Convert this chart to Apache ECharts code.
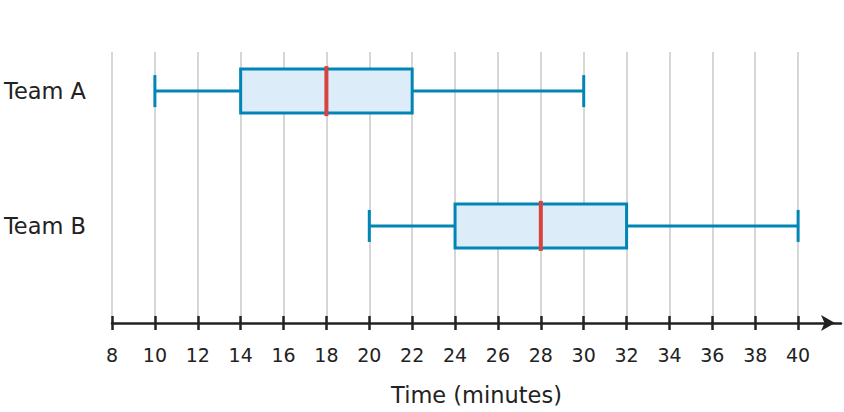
<!DOCTYPE html>
<html><head><meta charset="utf-8">
<script src="https://cdn.jsdelivr.net/npm/echarts@6/dist/echarts.min.js"></script>
<style>html,body{margin:0;padding:0;background:#fff}#c{width:844px;height:412px}</style>
</head><body><div id="c"></div>
<script>
var teams = ['Team A', 'Team B'];
var mins = [10, 20];
var q1s = [14, 24];
var medians = [18, 28];
var q3s = [22, 32];
var maxs = [30, 40];
var tickValues = [8,10,12,14,16,18,20,22,24,26,28,30,32,34,36,38,40];

var data = teams.map(function (t, i) { return [i, mins[i], q1s[i], medians[i], q3s[i], maxs[i]]; });

var BLUE = '#0085b6', FILL = '#dcecf9', RED = '#d8433e', INK = '#222222';
var FONT = 'DejaVu Sans';

function renderItem(params, api) {
  var idx = api.value(0);
  var p = function (v) { return api.coord([v, idx]); };
  var pMin = p(api.value(1)), pQ1 = p(api.value(2)), pMed = p(api.value(3)), pQ3 = p(api.value(4)), pMax = p(api.value(5));
  var cy = pMin[1];
  var boxH = 44, capH = 32, medH = 50;
  var lineStyle = { stroke: BLUE, lineWidth: 3, fill: null };
  return {
    type: 'group',
    children: [
      { type: 'line', shape: { x1: pMin[0], y1: cy, x2: pQ1[0], y2: cy }, style: lineStyle },
      { type: 'line', shape: { x1: pQ3[0], y1: cy, x2: pMax[0], y2: cy }, style: lineStyle },
      { type: 'line', shape: { x1: pMin[0], y1: cy - capH / 2, x2: pMin[0], y2: cy + capH / 2 }, style: lineStyle },
      { type: 'line', shape: { x1: pMax[0], y1: cy - capH / 2, x2: pMax[0], y2: cy + capH / 2 }, style: lineStyle },
      { type: 'rect', shape: { x: pQ1[0], y: cy - boxH / 2, width: pQ3[0] - pQ1[0], height: boxH }, style: { fill: FILL, stroke: BLUE, lineWidth: 3 } },
      { type: 'line', shape: { x1: pMed[0], y1: cy - medH / 2, x2: pMed[0], y2: cy + medH / 2 }, style: { stroke: RED, lineWidth: 4 } }
    ]
  };
}

var chart = echarts.init(document.getElementById('c'), null, { renderer: 'svg' });
chart.setOption({
  animation: false,
  backgroundColor: '#ffffff',
  textStyle: { fontFamily: FONT },
  grid: { left: 112, right: 3, top: 52, bottom: 89, containLabel: false },
  xAxis: [{
    type: 'value', min: 8, max: 42, interval: 2, position: 'bottom',
    name: 'Time (minutes)', nameLocation: 'middle', nameGap: 60,
    nameTextStyle: { fontSize: 22.5, color: INK, fontFamily: FONT },
    axisLine: { show: true, onZero: false, lineStyle: { color: INK, width: 2.5 }, symbol: ['none', 'arrow'], symbolSize: [12, 14], symbolOffset: [0, -6] },
    axisTick: { show: true, length: 7, lineStyle: { color: INK, width: 2.5 }, customValues: tickValues },
    axisLabel: { show: true, fontSize: 19, color: INK, margin: 22, fontFamily: FONT, customValues: tickValues },
    splitLine: { show: true, lineStyle: { color: '#d6d6d6', width: 2 } }
  }, {
    type: 'value', min: 8, max: 42, interval: 2, position: 'bottom', offset: 0,
    axisLine: { show: false, onZero: false },
    axisTick: { show: true, inside: true, length: 7, lineStyle: { color: INK, width: 2.5 }, customValues: tickValues },
    axisLabel: { show: false },
    splitLine: { show: false }
  }],
  yAxis: {
    type: 'value', inverse: true, min: -0.29, max: 1.72,
    axisLine: { show: false }, axisTick: { show: false }, splitLine: { show: false },
    axisLabel: {
      show: true, customValues: [0, 1], fontSize: 22.5, color: INK, margin: 26, fontFamily: FONT,
      formatter: function (v) { return teams[Math.round(v)] || ''; }
    }
  },
  series: [{
    type: 'custom', xAxisIndex: 0, yAxisIndex: 0,
    renderItem: renderItem,
    encode: { x: [1, 2, 3, 4, 5], y: 0 },
    data: data
  }]
});
</script></body></html>
